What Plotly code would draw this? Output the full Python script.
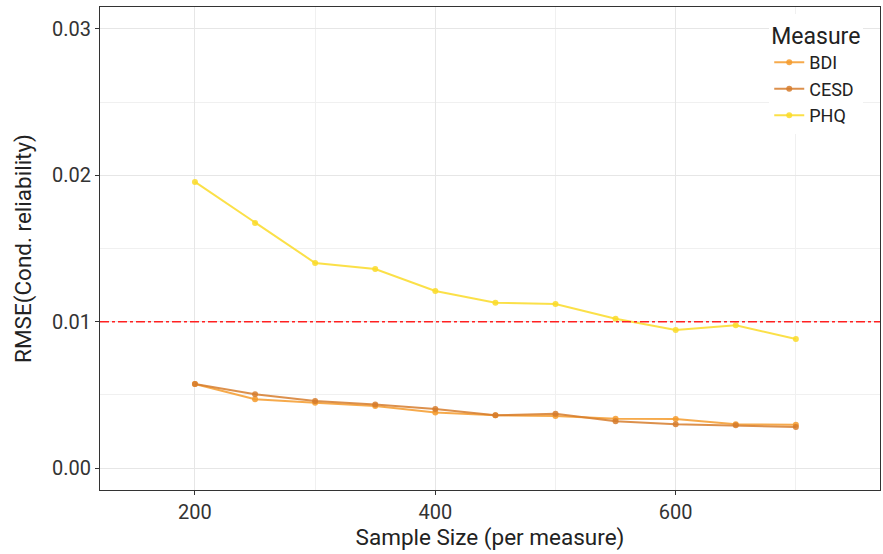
import plotly.graph_objects as go

sample_size = [200, 250, 300, 350, 400, 450, 500, 550, 600, 650, 700]
bdi = [0.00574, 0.0047, 0.00446, 0.00424, 0.0038, 0.0036, 0.00355, 0.00336, 0.00335, 0.00300, 0.00296]
cesd = [0.00574, 0.00504, 0.00458, 0.00435, 0.00403, 0.0036, 0.00371, 0.0032, 0.0030, 0.00292, 0.0028]
phq = [0.01955, 0.01675, 0.01401, 0.0136, 0.0121, 0.0113, 0.0112, 0.0102, 0.00943, 0.00975, 0.00882]
threshold = 0.01

series = [("BDI", bdi, "rgba(244,155,45,0.85)"),
          ("CESD", cesd, "rgba(214,125,45,0.85)"),
          ("PHQ", phq, "rgba(250,218,40,0.85)")]

FONT = "Roboto, sans-serif"

fig = go.Figure()
for name, vals, col in series:
    fig.add_trace(go.Scatter(x=sample_size, y=vals, name=name, mode="lines+markers",
                             line=dict(color=col, width=2),
                             marker=dict(color=col, size=6)))

fig.add_hline(y=threshold, line=dict(color="#FF2020", width=1.6, dash="dashdot"))

fig.update_layout(
    width=883, height=554,
    margin=dict(l=100, r=3, t=7, b=64),
    plot_bgcolor="white", paper_bgcolor="white",
    font=dict(family=FONT, size=20, color="#222222"),
    showlegend=True,
    legend=dict(title=dict(text="Measure", font=dict(size=23)),
                x=0.858, y=0.985, xanchor="left", yanchor="top",
                bgcolor="white", font=dict(size=18), tracegroupgap=0,
                itemwidth=30),
    xaxis=dict(range=[121, 770], tickvals=[200, 400, 600], ticks="outside", ticklen=4,
               tickcolor="#333333", showgrid=True, gridcolor="#E6E6E6", gridwidth=1.3,
               minor=dict(dtick=100, tick0=0, showgrid=True, gridcolor="#F0F0F0", gridwidth=0.9),
               showline=True, linecolor="#333333", linewidth=1, mirror=True,
               zeroline=False,
               title=dict(text="Sample Size (per measure)", standoff=6, font=dict(size=22.5)),
               tickfont=dict(size=20, color="#333333")),
    yaxis=dict(range=[-0.0015, 0.0315], tickvals=[0, 0.01, 0.02, 0.03],
               ticktext=["0.00", "0.01", "0.02", "0.03"], ticks="outside", ticklen=4,
               tickcolor="#333333", showgrid=True, gridcolor="#E6E6E6", gridwidth=1.3,
               minor=dict(dtick=0.005, tick0=0, showgrid=True, gridcolor="#F0F0F0", gridwidth=0.9),
               showline=True, linecolor="#333333", linewidth=1, mirror=True,
               zeroline=False,
               title=dict(text="RMSE(Cond. reliability)", standoff=14, font=dict(size=22.5)),
               tickfont=dict(size=20, color="#333333")),
)

fig.write_html("out.html")
